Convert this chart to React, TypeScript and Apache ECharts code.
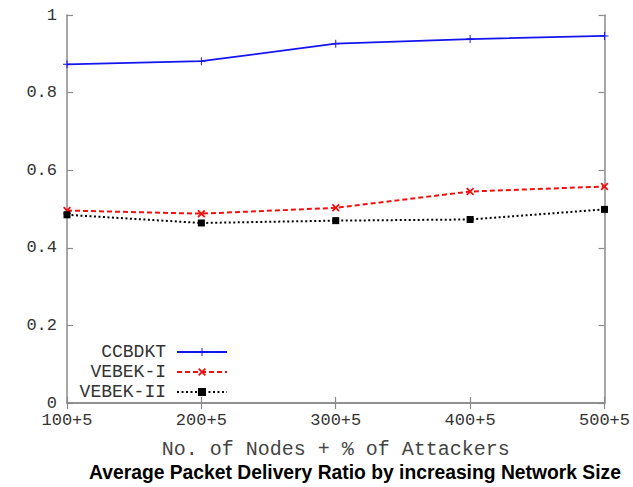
import React, { useEffect, useRef } from "react";
import * as echarts from "echarts";

const categories = ["100+5", "200+5", "300+5", "400+5", "500+5"];
const ccbdkt = [0.873, 0.881, 0.926, 0.938, 0.946];
const vebek1 = [0.496, 0.488, 0.503, 0.545, 0.558];
const vebek2 = [0.485, 0.464, 0.47, 0.473, 0.499];
const seriesNames = ["CCBDKT", "VEBEK-I", "VEBEK-II"];
const xName = "No. of Nodes + % of Attackers";
const titleText = "Average Packet Delivery Ratio by increasing Network Size";

const plusPath = "path://M4.4,0 H5.6 V4.4 H10 V5.6 H5.6 V10 H4.4 V5.6 H0 V4.4 H4.4 Z";
const crossPath =
  "path://M0,1.6 L1.6,0 L5,3.4 L8.4,0 L10,1.6 L6.6,5 L10,8.4 L8.4,10 L5,6.6 L1.6,10 L0,8.4 L3.4,5 Z";

const mono = "Liberation Mono";
const axisColor = "#8a8a8a";

export default function App() {
  const ref = useRef<HTMLDivElement>(null);
  useEffect(() => {
    if (!ref.current) return;
    const chart = echarts.init(ref.current, null, { renderer: "svg" });
    const tickStyle = { show: true, inside: true, length: 6, lineStyle: { color: axisColor, width: 1.2 } };
    const lineAx = { show: true, lineStyle: { color: axisColor, width: 1.5 } };
    chart.setOption({
      animation: false,
      backgroundColor: "#fff",
      title: {
        text: titleText,
        left: 84,
        top: 458,
        textStyle: { fontFamily: "Liberation Sans", fontWeight: "bold", fontSize: 19.3, color: "#000" },
      },
      grid: { left: 67, right: 24, top: 15, bottom: 84 },
      legend: {
        orient: "vertical",
        left: 61,
        top: 338,
        align: "right",
        itemWidth: 50,
        itemHeight: 10,
        itemGap: 2,
        data: seriesNames,
        formatter: (n: string) => `{a|${n}}`,
        textStyle: {
          fontFamily: mono,
          fontSize: 18,
          color: "#333",
          rich: {
            a: { width: 100, align: "right", padding: [0, 6, 0, 0], fontFamily: mono, fontSize: 18, lineHeight: 20, color: "#333" },
          },
        },
      },
      xAxis: [
        {
          type: "category",
          data: categories,
          boundaryGap: false,
          position: "bottom",
          axisLine: lineAx,
          axisTick: tickStyle,
          axisLabel: { fontFamily: mono, fontSize: 17, color: "#333", margin: 9 },
          name: xName,
          nameLocation: "middle",
          nameGap: 36,
          nameTextStyle: { fontFamily: mono, fontSize: 20, color: "#444" },
          splitLine: { show: false },
        },
        {
          type: "category",
          data: categories,
          boundaryGap: false,
          position: "top",
          axisLine: lineAx,
          axisTick: tickStyle,
          axisLabel: { show: false },
          splitLine: { show: false },
        },
      ],
      yAxis: [
        {
          type: "value",
          min: 0,
          max: 1,
          interval: 0.2,
          position: "left",
          axisLine: lineAx,
          axisTick: tickStyle,
          axisLabel: { fontFamily: mono, fontSize: 17, color: "#333", margin: 10 },
          splitLine: { show: false },
        },
        {
          type: "value",
          min: 0,
          max: 1,
          interval: 0.2,
          position: "right",
          axisLine: lineAx,
          axisTick: tickStyle,
          axisLabel: { show: false },
          splitLine: { show: false },
        },
      ],
      series: [
        {
          name: seriesNames[0],
          type: "line",
          data: ccbdkt,
          symbol: plusPath,
          symbolSize: 8,
          color: "#1414f0",
          itemStyle: { color: "#1414f0" },
          lineStyle: { color: "#1414f0", width: 1.8, type: "solid" },
        },
        {
          name: seriesNames[1],
          type: "line",
          data: vebek1,
          symbol: crossPath,
          symbolSize: 8,
          color: "#f01010",
          itemStyle: { color: "#f01010" },
          lineStyle: { color: "#f01010", width: 2, type: [5, 3] },
        },
        {
          name: seriesNames[2],
          type: "line",
          data: vebek2,
          symbol: "rect",
          symbolSize: 7,
          color: "#000",
          itemStyle: { color: "#000" },
          lineStyle: { color: "#000", width: 2, type: [2, 2.5] },
        },
      ],
    });
    return () => chart.dispose();
  }, []);
  return <div ref={ref} style={{ position: "fixed", left: 0, top: 0, width: 633, height: 487 }} />;
}
